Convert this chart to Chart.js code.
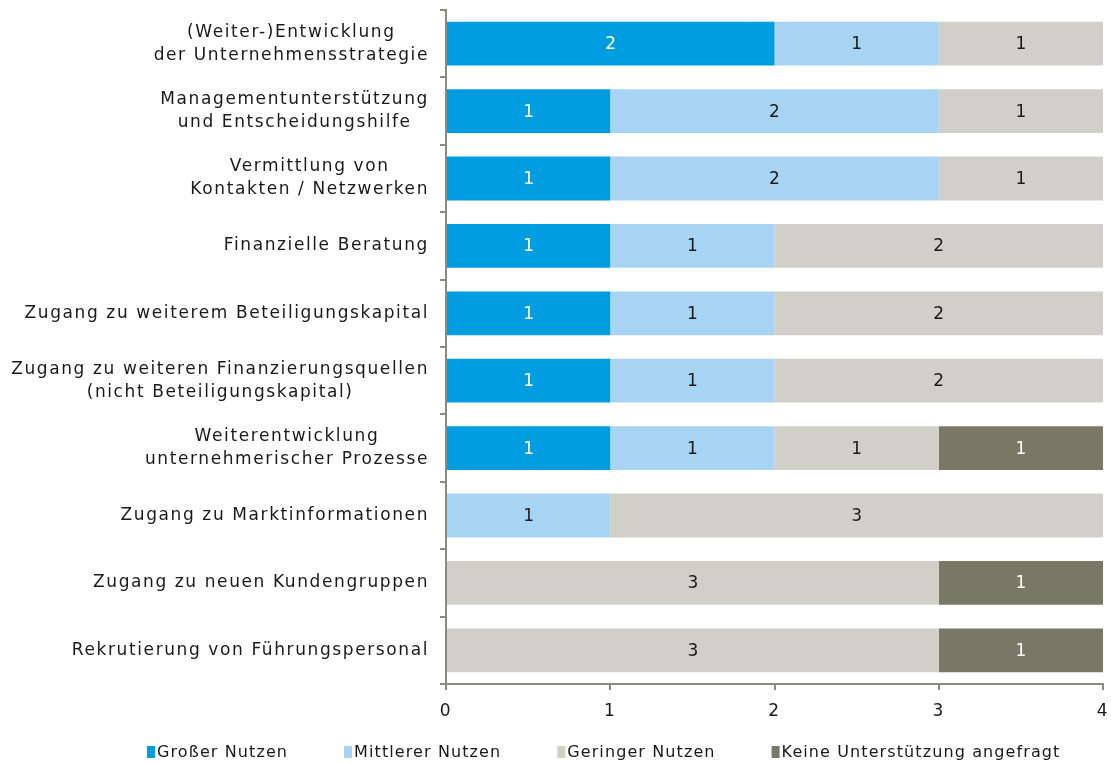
<!DOCTYPE html>
<html>
<head>
<meta charset="utf-8">
<script src="https://cdn.jsdelivr.net/npm/chart.js@4"></script>
<style>
  body { margin: 0; background: #fff; }
  #wrap { width: 1111px; height: 764px; }
</style>
</head>
<body>
<div id="wrap"><canvas id="nutzenChart"></canvas></div>
<script>
// categories (multi-line labels as arrays)
const categories = [
  ['(Weiter-)Entwicklung', 'der Unternehmensstrategie'],
  ['Managementunterstützung', 'und Entscheidungshilfe'],
  ['Vermittlung von', 'Kontakten / Netzwerken'],
  'Finanzielle Beratung',
  'Zugang zu weiterem Beteiligungskapital',
  ['Zugang zu weiteren Finanzierungsquellen', '(nicht Beteiligungskapital)'],
  ['Weiterentwicklung', 'unternehmerischer Prozesse'],
  'Zugang zu Marktinformationen',
  'Zugang zu neuen Kundengruppen',
  'Rekrutierung von Führungspersonal'
];

const grosserNutzen    = [2, 1, 1, 1, 1, 1, 1, null, null, null];
const mittlererNutzen  = [1, 2, 2, 1, 1, 1, 1, 1, null, null];
const geringerNutzen   = [1, 1, 1, 2, 2, 2, 1, 3, 3, 3];
const keineUnterstuetz = [null, null, null, null, null, null, 1, null, 1, 1];

const xTicks = [0, 1, 2, 3, 4];

const FONT = '"DejaVu Sans", sans-serif';
const SPACING = '1.6px';
const axisColor = '#8b8c7b';
const textColor = '#1a1a1a';

// letter spacing for everything drawn on the canvas
const spacingPlugin = {
  id: 'spacing',
  beforeUpdate(chart) { chart.ctx.letterSpacing = SPACING; },
  beforeDraw(chart) { chart.ctx.letterSpacing = SPACING; }
};

// value labels inside the bar segments
const valueLabels = {
  id: 'valueLabels',
  afterDatasetsDraw(chart) {
    const ctx = chart.ctx;
    ctx.save();
    ctx.letterSpacing = '0px';
    ctx.font = '17px ' + FONT;
    ctx.textAlign = 'center';
    ctx.textBaseline = 'middle';
    chart.data.datasets.forEach((ds, i) => {
      const meta = chart.getDatasetMeta(i);
      meta.data.forEach((bar, j) => {
        const v = ds.data[j];
        if (!v) return;
        ctx.fillStyle = ds.labelColor;
        ctx.fillText(String(v), (bar.x + bar.base) / 2, bar.y + 1);
      });
    });
    ctx.restore();
  }
};

// category labels: block right-aligned, lines centred within the block
const catLabels = {
  id: 'catLabels',
  afterDraw(chart) {
    const ctx = chart.ctx;
    const y = chart.scales.y;
    const right = chart.chartArea.left - 17;
    ctx.save();
    ctx.letterSpacing = SPACING;
    ctx.font = '17px ' + FONT;
    ctx.fillStyle = textColor;
    ctx.textAlign = 'center';
    ctx.textBaseline = 'middle';
    categories.forEach((lab, i) => {
      const lines = Array.isArray(lab) ? lab : [lab];
      const w = Math.max(...lines.map(l => ctx.measureText(l).width));
      const cx = right - w / 2;
      const cy = y.getPixelForValue(i);
      const lh = 23;
      lines.forEach((l, k) => {
        ctx.fillText(l, cx, cy + (k - (lines.length - 1) / 2) * lh);
      });
    });
    ctx.restore();
  }
};

// legend row under the axis: small box, label, wide gap
const legendRow = {
  id: 'legendRow',
  afterDraw(chart) {
    const ctx = chart.ctx;
    ctx.save();
    ctx.letterSpacing = '1.1px';
    ctx.font = '16px ' + FONT;
    ctx.textBaseline = 'middle';
    ctx.textAlign = 'left';
    let x = 147;
    const cy = 752;
    chart.data.datasets.forEach(ds => {
      ctx.fillStyle = ds.backgroundColor;
      ctx.fillRect(x, cy - 6, 8, 12);
      ctx.fillStyle = textColor;
      ctx.fillText(ds.label, x + 10, cy + 1);
      x += 10 + ctx.measureText(ds.label).width + 56;
    });
    ctx.restore();
  }
};

new Chart(document.getElementById('nutzenChart'), {
  type: 'bar',
  data: {
    labels: categories,
    datasets: [
      { label: 'Großer Nutzen', data: grosserNutzen, backgroundColor: '#009ee0', labelColor: '#ffffff' },
      { label: 'Mittlerer Nutzen', data: mittlererNutzen, backgroundColor: '#a8d4f3', labelColor: textColor },
      { label: 'Geringer Nutzen', data: geringerNutzen, backgroundColor: '#d0d0c8', labelColor: textColor },
      { label: 'Keine Unterstützung angefragt', data: keineUnterstuetz, backgroundColor: '#797866', labelColor: '#ffffff' }
    ]
  },
  options: {
    indexAxis: 'y',
    responsive: true,
    maintainAspectRatio: false,
    animation: false,
    datasets: {
      bar: { barPercentage: 0.65, categoryPercentage: 1, borderWidth: 0 }
    },
    layout: { padding: { left: 10, right: 0, top: 10, bottom: 24 } },
    scales: {
      x: {
        stacked: true,
        min: 0,
        max: 4,
        afterBuildTicks(scale) { scale.ticks = xTicks.map(v => ({ value: v })); },
        afterFit(scale) {
          scale.height = 56;
          scale.paddingLeft = 0;
          scale.paddingRight = 8;
        },
        grid: { drawOnChartArea: false, color: axisColor, lineWidth: 2, tickLength: 6 },
        border: { color: axisColor, width: 2 },
        ticks: { color: textColor, font: { family: FONT, size: 17 }, padding: 11 }
      },
      y: {
        stacked: true,
        afterFit(scale) {
          scale.width = 436;
          scale.paddingTop = 0;
          scale.paddingBottom = 0;
        },
        grid: { drawOnChartArea: false, color: axisColor, lineWidth: 2, tickLength: 6, offset: true },
        border: { color: axisColor, width: 2 },
        ticks: { color: 'rgba(0,0,0,0)', font: { family: FONT, size: 17 } }
      }
    },
    plugins: {
      legend: { display: false },
      tooltip: { enabled: false }
    }
  },
  plugins: [spacingPlugin, valueLabels, catLabels, legendRow]
});
</script>
</body>
</html>
